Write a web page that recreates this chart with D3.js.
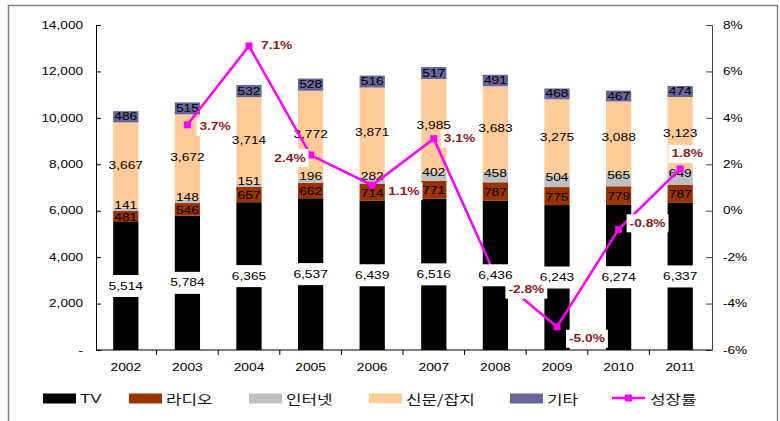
<!DOCTYPE html>
<html>
<head>
<meta charset="utf-8">
<script src="https://cdn.jsdelivr.net/npm/d3@7"></script>
<style>
  body { margin: 0; background: #fff; }
  svg { display: block; }
</style>
</head>
<body>
<svg id="chart" width="780" height="421"></svg>
<script>
// data
const years = ["2002","2003","2004","2005","2006","2007","2008","2009","2010","2011"]
const tv = [5514,5784,6365,6537,6439,6516,6436,6243,6274,6337]
const radio = [481,546,657,662,714,771,787,775,779,787]
const internet = [141,148,151,196,282,402,458,504,565,649]
const press = [3667,3672,3714,3772,3871,3985,3683,3275,3088,3123]
const other = [486,515,532,528,516,517,491,468,467,474]
const growth = [null,3.7,7.1,2.4,1.1,3.1,-2.8,-5.0,-0.8,1.8]
const leftTicks = [0,2000,4000,6000,8000,10000,12000,14000]
const rightTicks = [-6,-4,-2,0,2,4,6,8]

const seriesNames = ["TV","라디오","인터넷","신문/잡지","기타"]
const seriesVals = [tv,radio,internet,press,other]
const colors = ["#000000","#993300","#c0c0c0","#ffcc99","#666699"]
const lineColor = "#ff00ff"
const pctColor = "#8b1a1a"
const SX = 1.25 // the original text is drawn wide

const svg = d3.select("#chart")
const numFont = "'Liberation Sans', Arial, sans-serif"
const krFont = "'Noto Sans CJK KR', 'Liberation Sans', sans-serif"

// outer frame
svg.append("rect").attr("x",8.5).attr("y",5.5).attr("width",769).attr("height",430)
  .attr("fill","none").attr("stroke","#808080").attr("stroke-width",1.5)

const x = d3.scaleBand().domain(years).range([95,711]).paddingInner(0.59).paddingOuter(0.295)
const yL = d3.scaleLinear().domain([0,14000]).range([350,25])
const yR = d3.scaleLinear().domain([-6,8]).range([350,25])
const cx = d => x(d) + x.bandwidth()/2

// little helper, stretches text sideways
function txt(g, px, py, s, o) {
  o = o || {}
  return g.append("text")
    .attr("transform", `translate(${px},${py}) scale(${o.sx || SX},1)`)
    .attr("text-anchor", o.anchor || "middle")
    .attr("dominant-baseline","central")
    .style("font-family", o.family || numFont)
    .style("font-size", (o.size || 11) + "px")
    .style("font-weight", o.weight || "normal")
    .attr("fill", o.fill || "#000")
    .text(s)
}

// stacked data
const rows = years.map((y,i) => {
  const r = {year:y}
  seriesNames.forEach((n,k) => r[n] = seriesVals[k][i])
  return r
})
const stacked = d3.stack().keys(seriesNames)(rows)

const bars = svg.append("g")
stacked.forEach((s,k) => {
  bars.append("g").attr("fill",colors[k])
    .selectAll("rect").data(s).enter().append("rect")
    .attr("x",d => x(d.data.year)).attr("width",x.bandwidth())
    .attr("y",d => yL(d[1])).attr("height",d => yL(d[0]) - yL(d[1]))
})

// axes
const fmt = d3.format(",")
const axL = svg.append("g").attr("transform","translate(96,0)")
  .call(d3.axisRight(yL).tickValues(leftTicks).tickSize(5).tickFormat(""))
axL.select(".domain").attr("stroke","#000")
leftTicks.forEach(t => txt(svg, 83, yL(t), t === 0 ? "-" : fmt(t), {anchor:"end", size:11.5, sx:1.18}))

const axR = svg.append("g").attr("transform","translate(712,0)")
  .call(d3.axisLeft(yR).tickValues(rightTicks).tickSize(6).tickFormat(""))
axR.selectAll("path,line").attr("stroke","#444")
rightTicks.forEach(t => txt(svg, 723, yR(t), t + "%", {anchor:"start", size:11.5, sx:1.18}))

const bounds = d3.range(years.length + 1).map(i => 95 + x.step()*i)
const axB = svg.append("g")
axB.append("line").attr("x1",96).attr("x2",712).attr("y1",350).attr("y2",350).attr("stroke","#000")
axB.selectAll("line.tk").data(bounds.slice(1,-1)).enter().append("line").attr("class","tk")
  .attr("x1",d => d).attr("x2",d => d).attr("y1",350).attr("y2",355).attr("stroke","#000")
years.forEach(y => txt(svg, cx(y), 367, y, {size:11.5, sx:1.2}))

// segment labels (not TV); thin internet slices get nudged up like in excel
const nudge = [0, 1, -4, 0, 0]
const segLab = svg.append("g")
stacked.forEach((s,k) => {
  if (k === 0) return
  s.forEach(d => txt(segLab, cx(d.data.year), yL((d[0]+d[1])/2) + nudge[k], fmt(d[1]-d[0])))
})

// growth line
const pts = years.map((y,i) => ({year:y, v:growth[i]})).filter(d => d.v !== null)
svg.append("path").datum(pts)
  .attr("fill","none").attr("stroke",lineColor).attr("stroke-width",2.5)
  .attr("d", d3.line().x(d => cx(d.year)).y(d => yR(d.v)))
svg.append("g").selectAll("rect").data(pts).enter().append("rect")
  .attr("x",d => cx(d.year)-3.5).attr("y",d => yR(d.v)-3.5)
  .attr("width",7).attr("height",7).attr("fill",lineColor)

// TV labels with white box
const tvLab = svg.append("g")
stacked[0].forEach(d => {
  const g = tvLab.append("g")
  const t = txt(g, cx(d.data.year), yL(d[1]/2), fmt(d[1]))
  const w = t.node().getComputedTextLength()*SX + 8
  g.insert("rect","text").attr("x",cx(d.data.year)-w/2).attr("y",yL(d[1]/2)-11)
    .attr("width",w).attr("height",22).attr("fill","#fff")
})

// growth labels, placed by hand like the original
const place = {
  "2003":[12,2,"start"], "2004":[12,0,"start"], "2005":[-5,3,"end"], "2006":[16,6,"start"],
  "2007":[10,0,"start"], "2008":[13,14,"start"], "2009":[12,12,"start"],
  "2010":[11,-6,"start"], "2011":[7,-15,"middle"]
}
const pctLab = svg.append("g")
pts.forEach(d => {
  const p = place[d.year]
  const px = cx(d.year) + p[0], py = yR(d.v) + p[1]
  const g = pctLab.append("g")
  const t = txt(g, px, py, d.v.toFixed(1) + "%", {anchor:p[2], weight:"bold", fill:pctColor})
  const w = t.node().getComputedTextLength()*SX
  const x0 = p[2] === "start" ? px : p[2] === "end" ? px - w : px - w/2
  g.insert("rect","text").attr("x",x0-3).attr("y",py-9).attr("width",w+6).attr("height",18).attr("fill","#fff")
})

// legend
const legX = [43,129,249,369,510]
const leg = svg.append("g")
seriesNames.forEach((n,k) => {
  leg.append("rect").attr("x",legX[k]).attr("y",393.5).attr("width",33).attr("height",10).attr("fill",colors[k])
  txt(leg, legX[k]+37, 398, n, {anchor:"start", size:13, sx:1.3, family: k === 0 ? numFont : krFont, fill:"#111"})
})
leg.append("line").attr("x1",612).attr("x2",645).attr("y1",398).attr("y2",398).attr("stroke",lineColor).attr("stroke-width",2.5)
leg.append("rect").attr("x",625).attr("y",394.5).attr("width",7).attr("height",7).attr("fill",lineColor)
txt(leg, 650, 398, "성장률", {anchor:"start", size:13, sx:1.3, family:krFont, fill:"#111"})
</script>
</body>
</html>
